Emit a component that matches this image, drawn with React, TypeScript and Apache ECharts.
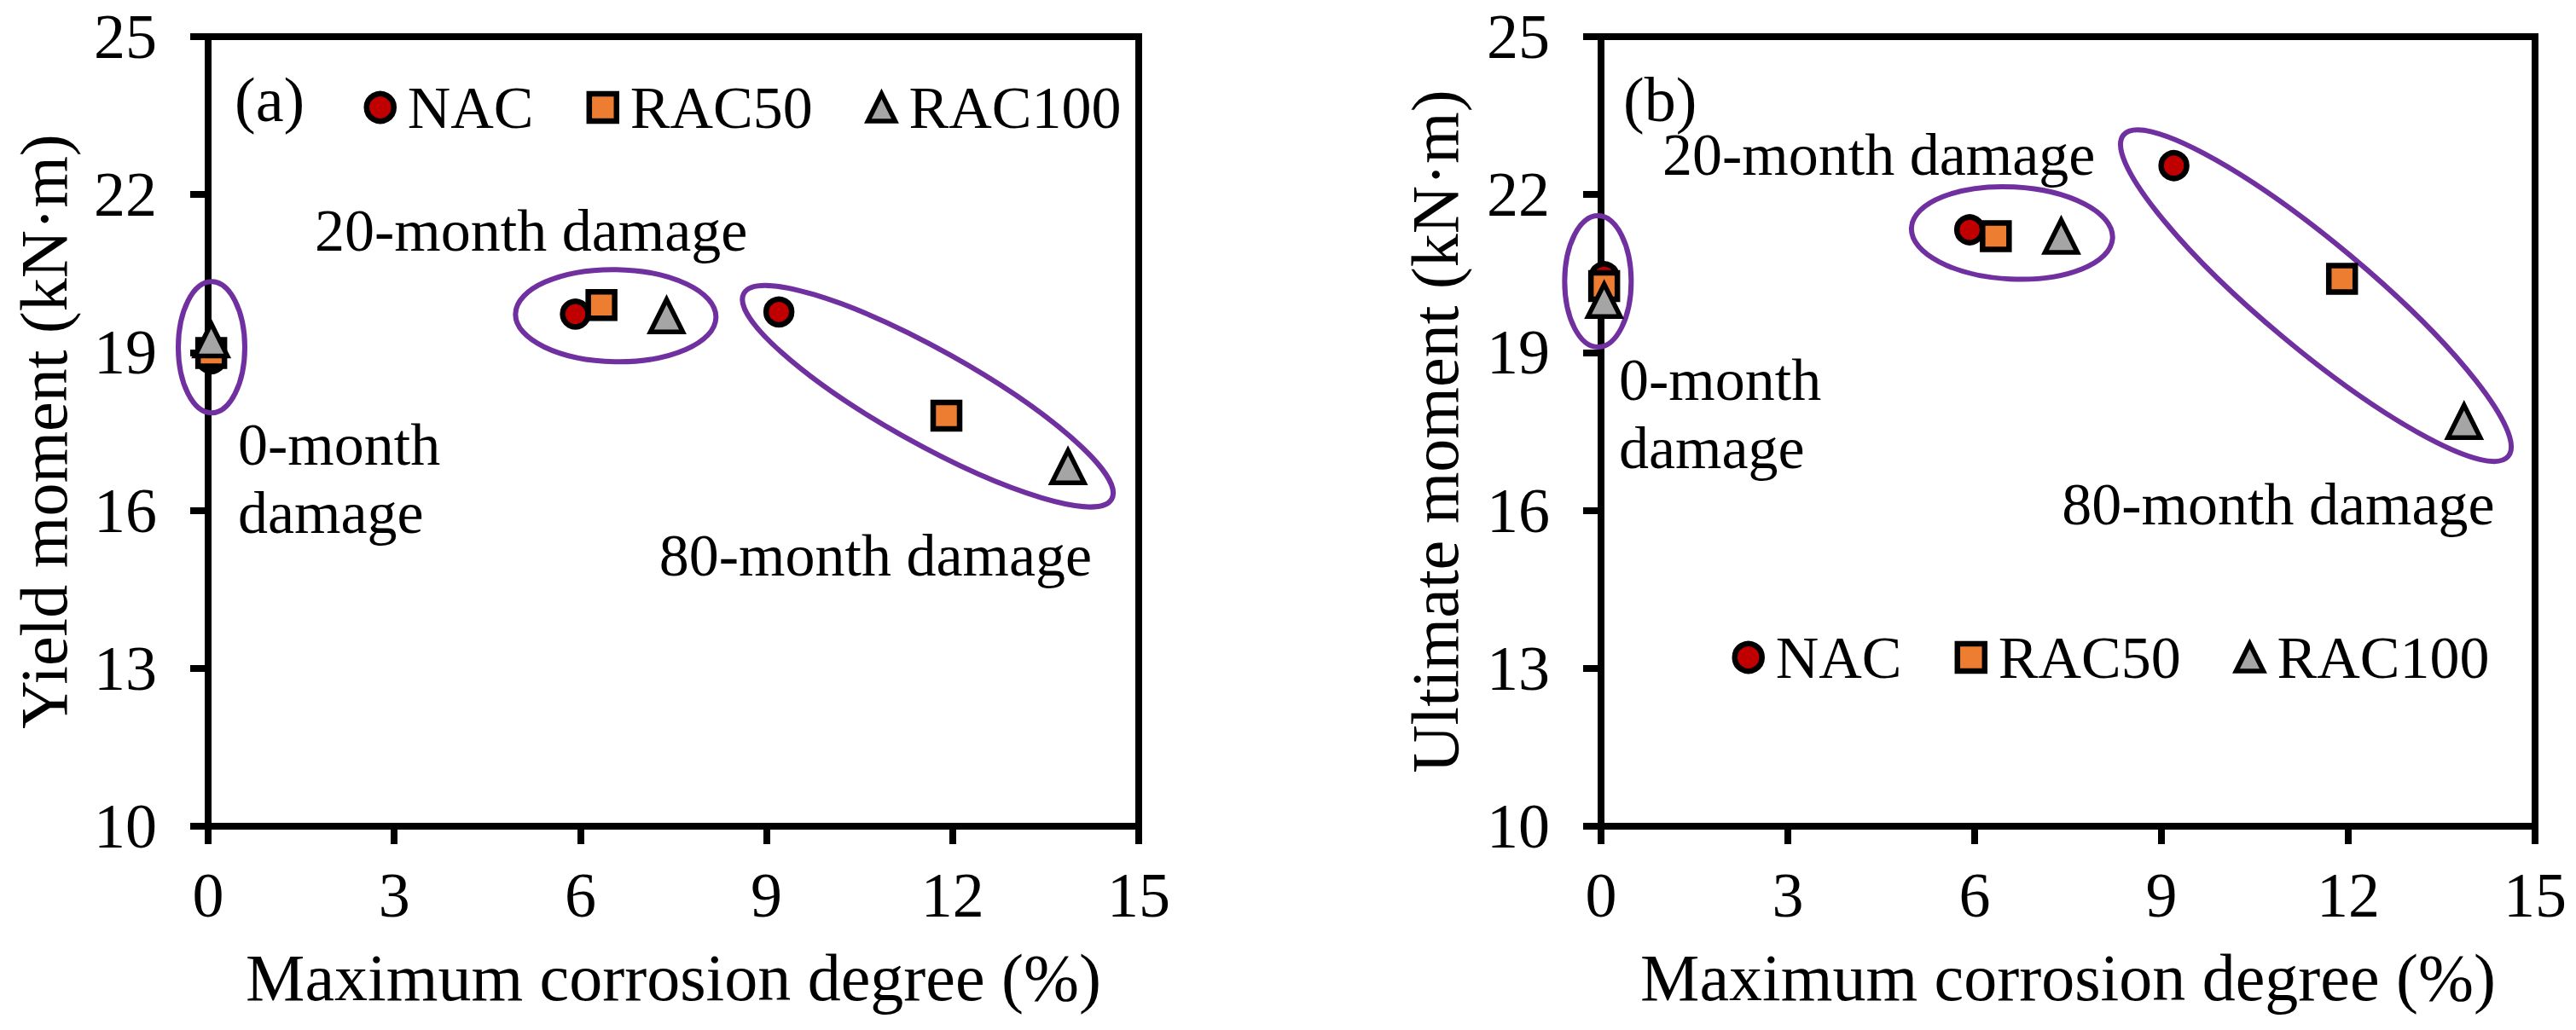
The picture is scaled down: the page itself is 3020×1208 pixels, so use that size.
import React, { useEffect, useRef } from "react";
import * as echarts from "echarts";

// ---- data ----
const seriesNames = ["NAC", "RAC50", "RAC100"];
const corrosionNAC = [0.05, 5.92, 9.2];
const corrosionRAC50 = [0.05, 6.34, 11.9];
const corrosionRAC100 = [0.05, 7.39, 13.86];
const yieldNAC = [18.88, 19.73, 19.77];
const yieldRAC50 = [18.99, 19.9, 17.8];
const yieldRAC100 = [19.24, 19.7, 16.83];
const ultimateNAC = [20.44, 21.33, 22.55];
const ultimateRAC50 = [20.26, 21.21, 20.4];
const ultimateRAC100 = [19.99, 21.21, 17.69];
const xTicks = [0, 3, 6, 9, 12, 15];
const yTicks = [10, 13, 16, 19, 22, 25];

// ---- annotations (group ellipses and labels, anchored in data space) ----
const groupsA = [
  { x: 0.055, y: 19.1, rx: 39, ry: 77, rot: 0 },
  { x: 6.57, y: 19.7, rx: 117.5, ry: 54, rot: 1 },
  { x: 11.6, y: 18.17, rx: 247, ry: 55, rot: 29.2 },
];
const groupsB = [
  { x: -0.05, y: 20.35, rx: 39, ry: 77, rot: 0 },
  { x: 6.6, y: 21.27, rx: 118, ry: 54, rot: 3 },
  { x: 11.48, y: 20.08, rx: 294, ry: 62, rot: 39.9 },
];
const notesA = [
  { text: "(a)", x: 0.426, y: 23.8, size: 74 },
  { text: "20-month damage", x: 1.719, y: 21.31, size: 70 },
  { text: "0-month\ndamage", x: 0.481, y: 16.6, size: 70 },
  { text: "80-month damage", x: 7.27, y: 15.135, size: 70 },
];
const notesB = [
  { text: "(b)", x: 0.356, y: 23.8, size: 74 },
  { text: "20-month damage", x: 0.986, y: 22.75, size: 70 },
  { text: "0-month\ndamage", x: 0.288, y: 17.83, size: 70 },
  { text: "80-month damage", x: 7.4, y: 16.107, size: 70 },
];

const FONT = "'Liberation Serif', 'Times New Roman', serif";
const COLORS = ["#C00000", "#ED7D31", "#A5A5A5"];
const SYMBOLS = ["circle", "rect", "triangle"];
const SIZES = [30, 31, 38];
const BORDERS = [6.5, 6.5, 5.5];
const PURPLE = "#7030A0";

function scatterSeries(gi: number, xs: number[][], ys: number[][]) {
  return seriesNames.map((name, k) => ({
    type: "scatter",
    name,
    xAxisIndex: gi,
    yAxisIndex: gi,
    data: xs[k].map((x, i) => [x, ys[k][i]]),
    symbol: SYMBOLS[k],
    symbolSize: SIZES[k],
    itemStyle: { color: COLORS[k], borderColor: "#000", borderWidth: BORDERS[k], opacity: 1 },
    emphasis: { disabled: true },
    z: 4,
  }));
}

function ellipseSeries(gi: number, groups: any[]) {
  return {
    type: "custom",
    name: "groups" + gi,
    xAxisIndex: gi,
    yAxisIndex: gi,
    z: 3,
    silent: true,
    data: groups.map((g) => [g.x, g.y]),
    renderItem: (params: any, api: any) => {
      const g = groups[params.dataIndex];
      const p = api.coord([g.x, g.y]);
      return {
        type: "ellipse",
        x: p[0],
        y: p[1],
        rotation: (-g.rot * Math.PI) / 180,
        shape: { cx: 0, cy: 0, rx: g.rx, ry: g.ry },
        style: { fill: "none", stroke: PURPLE, lineWidth: 6 },
      };
    },
  };
}

function noteSeries(gi: number, notes: any[]) {
  return {
    type: "custom",
    name: "notes" + gi,
    xAxisIndex: gi,
    yAxisIndex: gi,
    z: 5,
    silent: true,
    data: notes.map((n) => [n.x, n.y]),
    renderItem: (params: any, api: any) => {
      const n = notes[params.dataIndex];
      const p = api.coord([n.x, n.y]);
      return {
        type: "text",
        x: p[0],
        y: p[1],
        style: {
          text: n.text,
          fontSize: n.size,
          fontFamily: FONT,
          fill: "#000",
          align: "left",
          verticalAlign: "middle",
          lineHeight: 80,
        },
      };
    },
  };
}

function xAxisDef(gi: number) {
  return {
    type: "value",
    gridIndex: gi,
    min: xTicks[0],
    max: xTicks[xTicks.length - 1],
    interval: xTicks[1] - xTicks[0],
    name: "Maximum corrosion degree (%)",
    nameLocation: "middle",
    nameGap: 138,
    nameTextStyle: { fontFamily: FONT, fontSize: 78, color: "#000" },
    axisLine: { show: true, lineStyle: { color: "#000", width: 8 } },
    axisTick: { show: true, inside: false, length: 21, lineStyle: { color: "#000", width: 8 } },
    axisLabel: { margin: 44, fontFamily: FONT, fontSize: 74, color: "#000" },
    splitLine: { show: false },
  };
}

function yAxisDef(gi: number, name: string, gap: number) {
  return {
    type: "value",
    gridIndex: gi,
    min: yTicks[0],
    max: yTicks[yTicks.length - 1],
    interval: yTicks[1] - yTicks[0],
    name,
    nameLocation: "middle",
    nameGap: gap,
    nameTextStyle: { fontFamily: FONT, fontSize: 78, color: "#000" },
    axisLine: { show: true, lineStyle: { color: "#000", width: 8 } },
    axisTick: { show: true, inside: false, length: 21, lineStyle: { color: "#000", width: 8 } },
    axisLabel: { margin: 60, fontFamily: FONT, fontSize: 74, color: "#000" },
    splitLine: { show: false },
  };
}

const legendData = seriesNames.map((name, k) => ({
  name,
  icon: SYMBOLS[k],
  itemStyle: { color: COLORS[k], borderColor: "#000", borderWidth: BORDERS[k] },
}));

function legendDef(left: number, top: number, gap: number) {
  return {
    left,
    top,
    orient: "horizontal",
    padding: 0,
    itemWidth: 32,
    itemHeight: 32,
    itemGap: gap,
    selectedMode: false,
    data: legendData,
    textStyle: { fontFamily: FONT, fontSize: 70, color: "#000", padding: [0, 0, 0, 11] },
  };
}

export default function App() {
  const ref = useRef<HTMLDivElement>(null);
  useEffect(() => {
    if (!ref.current) return;
    const chart = echarts.init(ref.current, undefined, { renderer: "svg" });
    const option: any = {
      animation: false,
      backgroundColor: "#fff",
      grid: [
        { left: 244, top: 43, width: 1091, height: 926, show: true, borderColor: "#000", borderWidth: 8, backgroundColor: "transparent", z: 0 },
        { left: 1877, top: 43, width: 1095, height: 926, show: true, borderColor: "#000", borderWidth: 8, backgroundColor: "transparent", z: 0 },
      ],
      xAxis: [xAxisDef(0), xAxisDef(1)],
      yAxis: [yAxisDef(0, "Yield moment (kN·m)", 154), yAxisDef(1, "Ultimate moment (kN·m)", 156)],
      legend: [legendDef(426.5, 91, 62), legendDef(2030.5, 736, 62)],
      series: [
        ellipseSeries(0, groupsA),
        ellipseSeries(1, groupsB),
        ...scatterSeries(0, [corrosionNAC, corrosionRAC50, corrosionRAC100], [yieldNAC, yieldRAC50, yieldRAC100]),
        ...scatterSeries(1, [corrosionNAC, corrosionRAC50, corrosionRAC100], [ultimateNAC, ultimateRAC50, ultimateRAC100]),
        noteSeries(0, notesA),
        noteSeries(1, notesB),
      ],
    };
    chart.setOption(option);
    return () => chart.dispose();
  }, []);
  return (
    <div
      ref={ref}
      style={{ position: "fixed", left: 0, top: 0, width: 3020, height: 1208, background: "#fff" }}
    />
  );
}
